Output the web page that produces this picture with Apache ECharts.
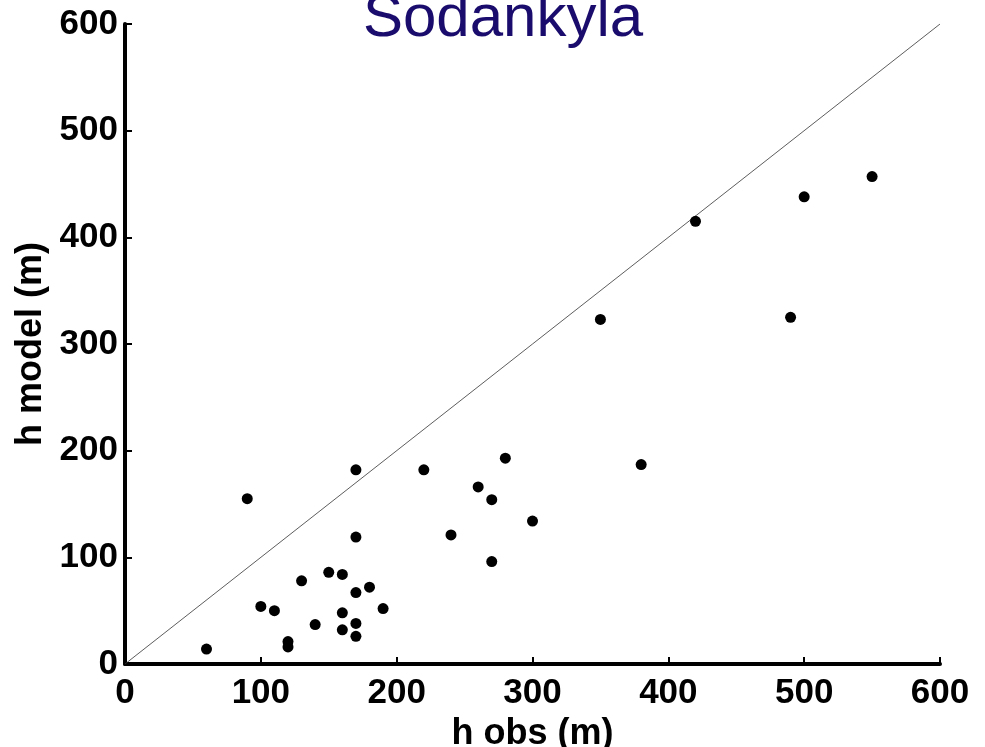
<!DOCTYPE html>
<html>
<head>
<meta charset="utf-8">
<script src="https://cdn.jsdelivr.net/npm/echarts@6/dist/echarts.min.js"></script>
<style>
  html, body { margin: 0; padding: 0; background: #fff; }
  #chart { width: 985px; height: 747px; }
</style>
</head>
<body>
<div id="chart"></div>
<script>
// Boundary-layer height at Sodankyla: observed vs. modelled (m)
const hObs = [60, 90, 100, 110, 120, 120, 130, 140, 150, 160, 160, 160,
  170, 170, 170, 170, 170, 180, 190, 220, 240, 260, 270, 270, 280, 300,
  350, 380, 420, 490, 500, 550];
const hModel = [14, 155, 54, 50, 21, 16, 78, 37, 86, 84, 48, 32,
  182, 119, 67, 38, 26, 72, 52, 182, 121, 166, 154, 96, 193, 134,
  323, 187, 415, 325, 438, 457];
const axisTicks = [0, 100, 200, 300, 400, 500, 600];
// 1:1 reference line endpoints
const oneToOne = [[0, 0], [600, 600]];

const points = hObs.map((x, i) => [x, hModel[i]]);
const tickFont = { fontFamily: 'Liberation Sans', fontWeight: 'bold', fontSize: 35, color: '#000' };

const chart = echarts.init(document.getElementById('chart'), null, { renderer: 'canvas' });
const axisCommon = {
  type: 'value',
  min: axisTicks[0],
  max: axisTicks[axisTicks.length - 1],
  interval: 100,
  axisLine: { show: true, lineStyle: { color: '#000', width: 4 } },
  axisTick: { show: true, inside: true, length: 7, lineStyle: { color: '#000', width: 2 } },
  splitLine: { show: false },
  nameLocation: 'middle',
  nameTextStyle: { fontFamily: 'Liberation Sans', fontWeight: 'bold', fontSize: 36, color: '#000' }
};

chart.setOption({
  animation: false,
  backgroundColor: '#fff',
  title: {
    text: 'Sodankyla',
    left: 498,
    top: -16,
    textAlign: 'center',
    textStyle: { fontFamily: 'Liberation Sans', fontWeight: 'normal', fontSize: 60, color: '#1a0c6c' }
  },
  grid: { left: 125, right: 45, top: 24, bottom: 83, containLabel: false, outerBoundsMode: 'none' },
  xAxis: Object.assign({}, axisCommon, {
    name: 'h obs (m)',
    nameGap: 46,
    axisLabel: Object.assign({ margin: 12 }, tickFont)
  }),
  yAxis: Object.assign({}, axisCommon, {
    name: 'h model (m)',
    nameGap: 72,
    axisLabel: Object.assign({ margin: 7 }, tickFont)
  }),
  series: [
    {
      type: 'line',
      data: oneToOne,
      symbol: 'none',
      lineStyle: { color: '#333', width: 0.8 },
      silent: true,
      z: 1
    },
    {
      type: 'scatter',
      data: points,
      symbol: 'circle',
      symbolSize: 11,
      itemStyle: { color: '#000', opacity: 1 },
      z: 2
    }
  ]
});
</script>
</body>
</html>
